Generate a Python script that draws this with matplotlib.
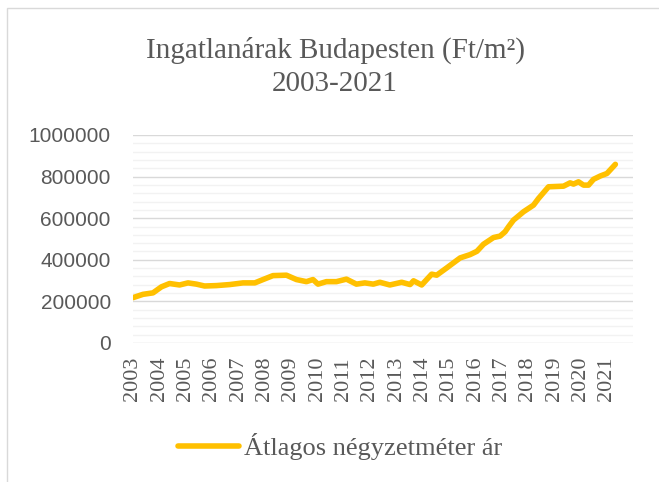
import matplotlib.pyplot as plt
from matplotlib.patches import Rectangle
import numpy as np

# average price per m2 in Budapest
years = [2003.00, 2003.38, 2003.76, 2004.08, 2004.39, 2004.77, 2005.09, 2005.41,
         2005.72, 2006.17, 2006.68, 2007.18, 2007.63, 2007.94, 2008.32, 2008.83,
         2009.21, 2009.59, 2009.84, 2010.03, 2010.35, 2010.73, 2011.11, 2011.49,
         2011.81, 2012.13, 2012.38, 2012.76, 2013.21, 2013.53, 2013.66, 2013.97,
         2014.35, 2014.54, 2014.92, 2015.43, 2015.81, 2016.07, 2016.32, 2016.70,
         2016.95, 2017.14, 2017.27, 2017.46, 2017.84, 2018.22, 2018.41, 2018.79,
         2019.36, 2019.61, 2019.74, 2019.93, 2020.12, 2020.31, 2020.50, 2020.76,
         2021.01, 2021.33]
prices = [218000, 234000, 241000, 270000, 286000, 279000, 289000, 283000,
          274000, 276000, 281000, 289000, 289000, 305000, 324000, 326000,
          305000, 295000, 305000, 283000, 295000, 295000, 307000, 283000,
          289000, 283000, 292000, 279000, 292000, 281000, 299000, 279000,
          331000, 326000, 361000, 409000, 425000, 441000, 475000, 507000,
          514000, 535000, 559000, 591000, 631000, 663000, 695000, 751000,
          754000, 770000, 764000, 775000, 759000, 759000, 787000, 803000,
          815000, 859000]
tick_years = list(range(2003, 2022))
series_name = 'Átlagos négyzetméter ár'
title_1 = 'Ingatlanárak Budapesten (Ft/m²)'
title_2 = '2003-2021'

grey = '#595959'
W, H = 659, 482

fig = plt.figure(figsize=(W / 100, H / 100), dpi=100)
fig.patches.append(Rectangle((7 / W, -0.1), 1.2, 1 - 8 / H + 0.1, transform=fig.transFigure,
                             fill=False, edgecolor='#d9d9d9', linewidth=1.0))

ax = fig.add_axes([133 / W, 1 - 343 / H, 500 / W, 208 / H])
line, = ax.plot(years, prices, color='#FFC000', linewidth=4.0,
                solid_capstyle='round', solid_joinstyle='round', label=series_name)

ax.set_xlim(2003, 2022)
ax.set_ylim(0, 1000000)
ax.set_xticks(tick_years)
ax.set_xticklabels([str(y) for y in tick_years], rotation=90,
                   family='Liberation Serif', fontsize=16, color=grey)
ax.set_yticks(np.arange(0, 1000001, 200000))
ax.set_yticks(np.arange(0, 1000001, 40000), minor=True)
ax.set_yticklabels([str(v) for v in range(0, 1000001, 200000)],
                   family='Liberation Sans', fontsize=15, color=grey)
ax.tick_params(axis='x', length=0, pad=10)
ax.tick_params(axis='y', which='both', length=0, pad=16)
ax.grid(axis='y', which='major', color='#d9d9d9', linewidth=1.0)
ax.grid(axis='y', which='minor', color='#f2f2f2', linewidth=1.0)
ax.set_axisbelow(True)
for s in ax.spines.values():
    s.set_visible(False)

fig.text(335 / W, 1 - 58 / H, title_1, ha='center', va='baseline',
         family='Liberation Serif', fontsize=21, color=grey)
fig.text(335 / W, 1 - 91 / H, title_2, ha='center', va='baseline',
         family='Liberation Serif', fontsize=21, color=grey)

fig.legend(handles=[line], loc='center', bbox_to_anchor=(340 / W, 1 - 447 / H),
           bbox_transform=fig.transFigure, frameon=False,
           prop={'family': 'Liberation Serif', 'size': 19},
           labelcolor=grey, handlelength=2.3, handletextpad=0.2)

fig.savefig('out.png', dpi=100)
